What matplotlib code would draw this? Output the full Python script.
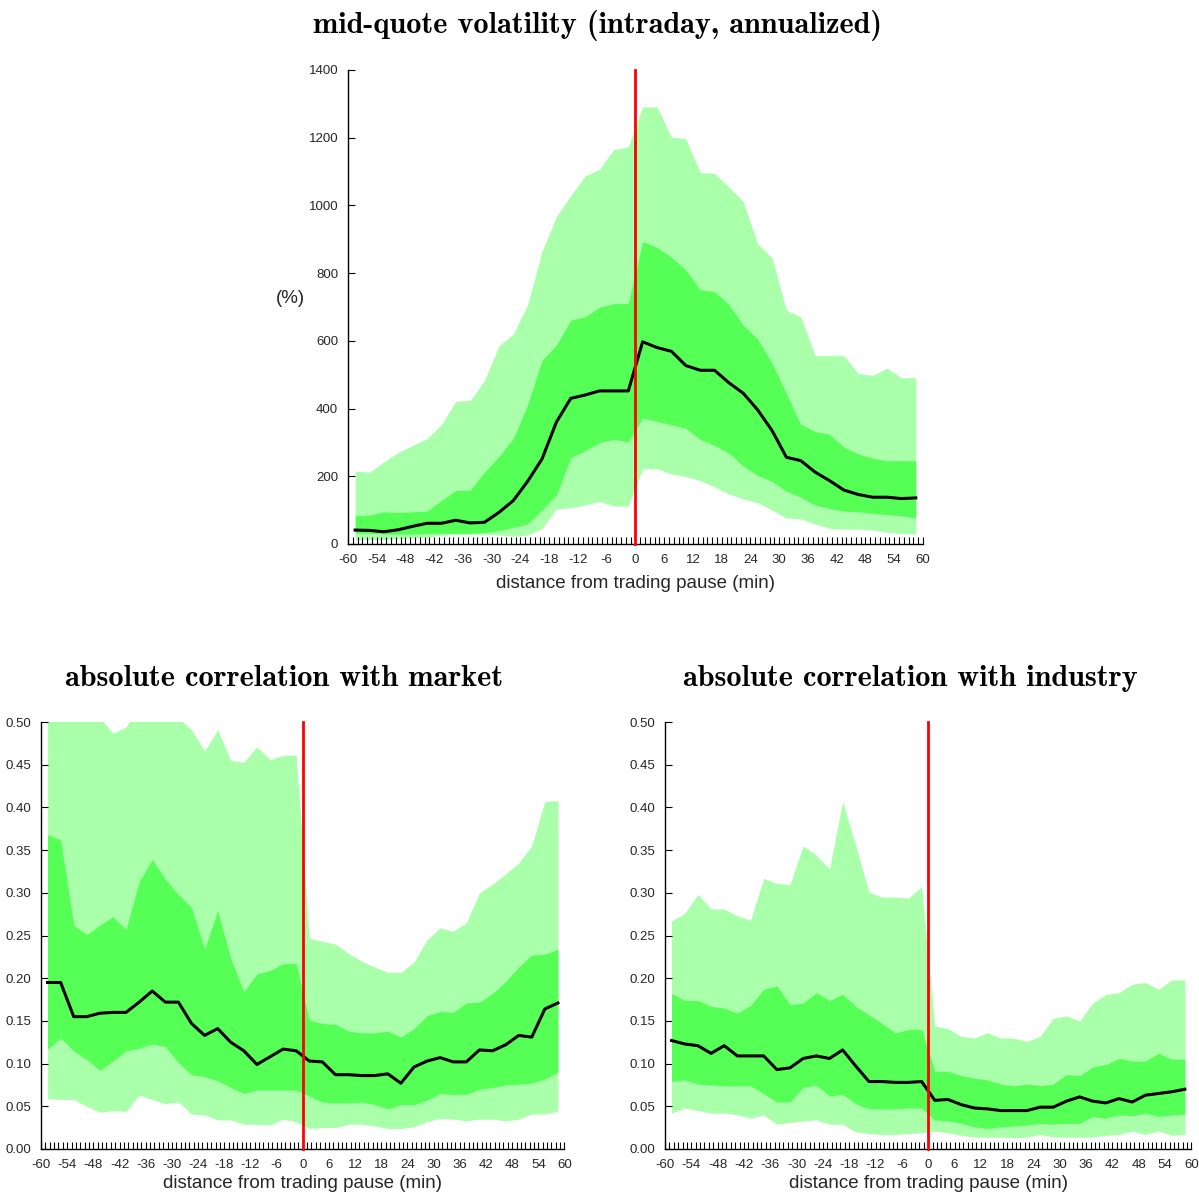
import numpy as np
import matplotlib
matplotlib.use('Agg')
import matplotlib.pyplot as plt

# minutes relative to the trading pause (bin centres, 3-minute bins)
minutes = np.arange(-58.5, 59, 3)

# mid-quote volatility (%)
vol_median = [41, 40, 36, 42, 52, 61, 61, 70, 62, 64, 93, 128, 185, 251, 360, 430, 440, 452, 452, 452,
              597, 580, 569, 527, 513, 513, 476, 445, 396, 335, 256, 246, 212, 187, 159, 146, 138, 138, 134, 136]
vol_q25 = [32, 32, 29, 29, 29, 31, 31, 31, 31, 34, 39, 49, 59, 100, 144, 255, 276, 299, 309, 301,
           372, 362, 352, 342, 309, 291, 268, 230, 202, 185, 156, 138, 115, 105, 97, 95, 90, 87, 83, 77]
vol_q75 = [83, 85, 95, 93, 95, 97, 128, 158, 159, 212, 258, 311, 411, 542, 587, 661, 671, 699, 710, 710,
           893, 876, 847, 809, 751, 745, 707, 646, 605, 534, 444, 353, 332, 324, 286, 266, 253, 246, 246, 245]
vol_q10 = [13, 13, 13, 16, 18, 20, 26, 29, 29, 29, 26, 23, 26, 46, 103, 107, 115, 126, 112, 112,
           222, 222, 207, 199, 187, 169, 148, 133, 122, 100, 77, 74, 59, 46, 44, 44, 41, 34, 31, 29]
vol_q90 = [215, 212, 243, 270, 291, 311, 352, 421, 424, 483, 585, 620, 707, 865, 967, 1029, 1087, 1107, 1165, 1173,
           1291, 1291, 1202, 1197, 1097, 1095, 1054, 1011, 886, 845, 690, 671, 556, 556, 556, 503, 498, 519, 491, 491]

# absolute correlation with market
mkt_median = [0.195, 0.195, 0.155, 0.155, 0.159, 0.160, 0.160, 0.172, 0.185, 0.172,
              0.172, 0.147, 0.133, 0.141, 0.125, 0.115, 0.099, 0.108, 0.117, 0.115,
              0.103, 0.102, 0.087, 0.087, 0.086, 0.086, 0.088, 0.077, 0.096, 0.103,
              0.107, 0.102, 0.102, 0.116, 0.115, 0.122, 0.133, 0.131, 0.164, 0.171]
mkt_q25 = [0.117, 0.130, 0.115, 0.105, 0.092, 0.103, 0.115, 0.118, 0.123, 0.120,
           0.101, 0.087, 0.085, 0.080, 0.072, 0.065, 0.069, 0.069, 0.069, 0.069,
           0.062, 0.055, 0.054, 0.054, 0.055, 0.052, 0.047, 0.052, 0.052, 0.057,
           0.065, 0.064, 0.064, 0.070, 0.072, 0.075, 0.076, 0.077, 0.082, 0.090]
mkt_q75 = [0.368, 0.362, 0.262, 0.251, 0.262, 0.272, 0.257, 0.313, 0.339, 0.316,
           0.298, 0.283, 0.234, 0.279, 0.223, 0.184, 0.205, 0.209, 0.217, 0.217,
           0.151, 0.147, 0.146, 0.138, 0.136, 0.136, 0.138, 0.131, 0.141, 0.156,
           0.161, 0.160, 0.171, 0.172, 0.182, 0.196, 0.213, 0.227, 0.228, 0.234]
mkt_q10 = [0.059, 0.058, 0.058, 0.050, 0.043, 0.045, 0.044, 0.063, 0.058, 0.053,
           0.055, 0.041, 0.040, 0.034, 0.034, 0.029, 0.029, 0.028, 0.035, 0.032,
           0.024, 0.025, 0.025, 0.029, 0.029, 0.027, 0.024, 0.024, 0.026, 0.032,
           0.036, 0.035, 0.033, 0.035, 0.035, 0.033, 0.035, 0.041, 0.041, 0.044]
mkt_q90 = [0.520, 0.520, 0.520, 0.520, 0.505, 0.487, 0.494, 0.520, 0.520, 0.520,
           0.505, 0.491, 0.466, 0.491, 0.455, 0.453, 0.471, 0.456, 0.461, 0.461,
           0.247, 0.243, 0.240, 0.229, 0.220, 0.213, 0.207, 0.207, 0.219, 0.245,
           0.259, 0.255, 0.265, 0.300, 0.310, 0.322, 0.335, 0.355, 0.407, 0.408]

# absolute correlation with industry
ind_median = [0.127, 0.123, 0.121, 0.112, 0.121, 0.109, 0.109, 0.109, 0.093, 0.095,
              0.106, 0.109, 0.106, 0.116, 0.097, 0.079, 0.079, 0.078, 0.078, 0.079,
              0.057, 0.058, 0.052, 0.048, 0.047, 0.045, 0.045, 0.045, 0.049, 0.049,
              0.056, 0.061, 0.056, 0.054, 0.059, 0.055, 0.063, 0.065, 0.067, 0.070]
ind_q25 = [0.079, 0.081, 0.076, 0.075, 0.074, 0.074, 0.074, 0.065, 0.055, 0.055,
           0.072, 0.075, 0.062, 0.064, 0.053, 0.047, 0.047, 0.047, 0.048, 0.048,
           0.034, 0.033, 0.030, 0.026, 0.024, 0.026, 0.027, 0.028, 0.030, 0.029,
           0.030, 0.030, 0.038, 0.036, 0.040, 0.039, 0.042, 0.038, 0.040, 0.041]
ind_q75 = [0.182, 0.174, 0.174, 0.167, 0.165, 0.159, 0.168, 0.187, 0.191, 0.169,
           0.171, 0.183, 0.174, 0.181, 0.167, 0.157, 0.147, 0.136, 0.140, 0.140,
           0.091, 0.091, 0.086, 0.083, 0.081, 0.076, 0.074, 0.076, 0.074, 0.076,
           0.087, 0.086, 0.096, 0.099, 0.106, 0.103, 0.103, 0.112, 0.105, 0.105]
ind_q10 = [0.042, 0.048, 0.045, 0.042, 0.042, 0.040, 0.036, 0.040, 0.029, 0.031,
           0.033, 0.034, 0.029, 0.029, 0.020, 0.018, 0.017, 0.017, 0.018, 0.019,
           0.021, 0.019, 0.016, 0.014, 0.014, 0.014, 0.013, 0.014, 0.017, 0.014,
           0.014, 0.014, 0.014, 0.016, 0.017, 0.021, 0.017, 0.021, 0.016, 0.017]
ind_q90 = [0.267, 0.276, 0.298, 0.281, 0.281, 0.273, 0.268, 0.317, 0.311, 0.310,
           0.355, 0.344, 0.328, 0.407, 0.355, 0.301, 0.295, 0.295, 0.294, 0.307,
           0.144, 0.141, 0.132, 0.130, 0.136, 0.130, 0.130, 0.126, 0.132, 0.153,
           0.156, 0.150, 0.171, 0.181, 0.183, 0.193, 0.195, 0.187, 0.198, 0.198]

titles = ['mid-quote volatility (intraday, annualized)',
          'absolute correlation with market',
          'absolute correlation with industry']

LIGHT = '#aaffaa'
DARK = '#55ff55'
TXT = '#262626'
tick_font = {'family': 'Liberation Sans', 'size': 9.5, 'color': TXT}


def draw_panel(ax, med, q25, q75, q10, q90, ylim, yticks, yfmt, xlabelpad):
    ax.fill_between(minutes, q10, q90, color=LIGHT, lw=0, zorder=1)
    ax.fill_between(minutes, q25, q75, color=DARK, lw=0, zorder=2)
    ax.plot(minutes, med, color='black', lw=2.2, zorder=3)
    ax.axvline(0, color='#ff0000', lw=2, zorder=4, clip_on=False)

    ax.set_xlim(-60, 60)
    ax.set_ylim(*ylim)
    ax.set_xticks(np.arange(-60, 61, 1))
    ax.set_xticklabels([str(m) if m % 6 == 0 else '' for m in range(-60, 61)], **tick_font)
    ax.set_yticks(yticks)
    ax.set_yticklabels([yfmt.format(v) for v in yticks], **tick_font)
    ax.tick_params(axis='both', direction='in', length=5, width=0.8)
    ax.tick_params(axis='x', pad=7)
    ax.tick_params(axis='y', pad=7)

    for side in ['top', 'right']:
        ax.spines[side].set_visible(False)
    for side in ['left', 'bottom']:
        ax.spines[side].set_linewidth(1.0)

    ax.set_xlabel('distance from trading pause (min)', family='Liberation Sans',
                  fontsize=13.5, color=TXT, labelpad=xlabelpad)


fig = plt.figure(figsize=(11.99, 11.96), dpi=100)

ax_top = fig.add_axes([0.2902, 0.5452, 0.4796, 0.3963])
draw_panel(ax_top, vol_median, vol_q25, vol_q75, vol_q10, vol_q90,
           (0, 1400), np.arange(0, 1401, 200), '{:.0f}', 7)
ax_top.set_ylabel('(%)', family='Liberation Sans', fontsize=13.5, color=TXT,
                  rotation=0, labelpad=13)

ax_mkt = fig.add_axes([0.0342, 0.0393, 0.4366, 0.3570])
draw_panel(ax_mkt, mkt_median, mkt_q25, mkt_q75, mkt_q10, mkt_q90,
           (0, 0.5), np.arange(0, 0.501, 0.05), '{:.2f}', 3)

ax_ind = fig.add_axes([0.5546, 0.0393, 0.4391, 0.3570])
draw_panel(ax_ind, ind_median, ind_q25, ind_q75, ind_q10, ind_q90,
           (0, 0.5), np.arange(0, 0.501, 0.05), '{:.2f}', 3)

fig.text(0.4983, 0.9783, titles[0], family='cmb10', fontsize=21.8, ha='center', va='center')
fig.text(0.2369, 0.4323, titles[1], family='cmb10', fontsize=21.8, ha='center', va='center')
fig.text(0.7590, 0.4323, titles[2], family='cmb10', fontsize=21.8, ha='center', va='center')

fig.savefig('out.png', dpi=100)
